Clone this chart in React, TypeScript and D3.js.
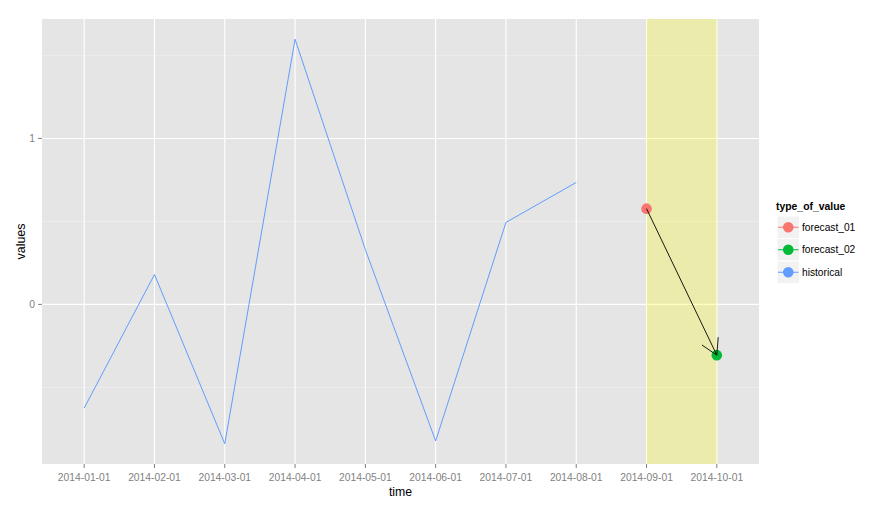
import React from "react";
import * as d3 from "d3";

const categories = [
  "2014-01-01", "2014-02-01", "2014-03-01", "2014-04-01", "2014-05-01",
  "2014-06-01", "2014-07-01", "2014-08-01", "2014-09-01", "2014-10-01",
];
const historicalDates = [
  "2014-01-01", "2014-02-01", "2014-03-01", "2014-04-01",
  "2014-05-01", "2014-06-01", "2014-07-01", "2014-08-01",
];
const historicalValues = [-0.625, 0.18, -0.84, 1.598, 0.33, -0.823, 0.494, 0.735];
const forecast01 = { date: "2014-09-01", value: 0.577 };
const forecast02 = { date: "2014-10-01", value: -0.306 };
const highlightRange = ["2014-09-01", "2014-10-01"];
const yMajorTicks = [0, 1];
const yMinorTicks = [-0.5, 0.5, 1.5];
const legendItems = [
  { label: "forecast_01", color: "#F8766D" },
  { label: "forecast_02", color: "#00BA38" },
  { label: "historical", color: "#619CFF" },
];

const W = 892, H = 510;
const panel = { left: 42, right: 759, top: 19, bottom: 464 };
const FONT = "Liberation Sans, Arial, sans-serif";
const GREY_TEXT = "#7F7F7F";

export default function App() {
  const x = d3.scalePoint<string>().domain(categories).range([panel.left, panel.right]).padding(0.6);
  const allVals = [...historicalValues, forecast01.value, forecast02.value];
  const [mn, mx] = d3.extent(allVals) as [number, number];
  const pad = (mx - mn) * 0.05;
  const y = d3.scaleLinear().domain([mn - pad, mx + pad]).range([panel.bottom, panel.top]);

  const line = d3.line<number>()
    .x((_, i) => x(historicalDates[i]) as number)
    .y((d) => y(d));

  const ax = x(forecast01.date) as number, ay = y(forecast01.value);
  const bx = x(forecast02.date) as number, by = y(forecast02.value);
  const ang = Math.atan2(ay - by, ax - bx);
  const headLen = 18, headAng = Math.PI / 6;
  const h1 = [bx + headLen * Math.cos(ang + headAng), by + headLen * Math.sin(ang + headAng)];
  const h2 = [bx + headLen * Math.cos(ang - headAng), by + headLen * Math.sin(ang - headAng)];

  const rx0 = x(highlightRange[0]) as number, rx1 = x(highlightRange[1]) as number;

  const legX = 777, legY = 216, keySize = 22.5;

  return (
    <svg width={W} height={H} style={{ position: "absolute", left: 0, top: 0, background: "#fff" }}>
      <rect x={panel.left} y={panel.top} width={panel.right - panel.left} height={panel.bottom - panel.top} fill="#E5E5E5" />
      {yMinorTicks.map((t) => (
        <line key={"mn" + t} x1={panel.left} x2={panel.right} y1={y(t)} y2={y(t)} stroke="#F2F2F2" strokeWidth={0.6} />
      ))}
      {yMajorTicks.map((t) => (
        <line key={"mj" + t} x1={panel.left} x2={panel.right} y1={y(t)} y2={y(t)} stroke="#FFFFFF" strokeWidth={1.1} />
      ))}
      {categories.map((c) => (
        <line key={"vx" + c} x1={x(c)} x2={x(c)} y1={panel.top} y2={panel.bottom} stroke="#FFFFFF" strokeWidth={1.1} />
      ))}
      <rect x={rx0} y={panel.top} width={rx1 - rx0} height={panel.bottom - panel.top} fill="#FFFF00" fillOpacity={0.25} />
      <path d={line(historicalValues) || ""} fill="none" stroke="#619CFF" strokeWidth={1} />
      <circle cx={ax} cy={ay} r={5.3} fill="#F8766D" />
      <circle cx={bx} cy={by} r={5.3} fill="#00BA38" />
      <g stroke="#000" strokeWidth={0.9} fill="none">
        <line x1={ax} y1={ay} x2={bx} y2={by} />
        <line x1={bx} y1={by} x2={h1[0]} y2={h1[1]} />
        <line x1={bx} y1={by} x2={h2[0]} y2={h2[1]} />
      </g>

      {/* x axis */}
      {categories.map((c) => (
        <g key={"xt" + c}>
          <line x1={x(c)} x2={x(c)} y1={panel.bottom} y2={panel.bottom + 4} stroke={GREY_TEXT} strokeWidth={1} />
          <text x={x(c)} y={481} textAnchor="middle" fontFamily={FONT} fontSize={10.3} fill={GREY_TEXT}>{c}</text>
        </g>
      ))}
      <text x={(panel.left + panel.right) / 2} y={496} textAnchor="middle" fontFamily={FONT} fontSize={12.3} fill="#000">time</text>

      {/* y axis */}
      {yMajorTicks.map((t) => (
        <g key={"yt" + t}>
          <line x1={panel.left - 4} x2={panel.left} y1={y(t)} y2={y(t)} stroke={GREY_TEXT} strokeWidth={1} />
          <text x={35} y={y(t) + 3.7} textAnchor="end" fontFamily={FONT} fontSize={10.3} fill={GREY_TEXT}>{t}</text>
        </g>
      ))}
      <text transform={`translate(25,${(panel.top + panel.bottom) / 2}) rotate(-90)`} textAnchor="middle" fontFamily={FONT} fontSize={12.5} fill="#000">values</text>

      {/* legend */}
      <text x={776} y={209.5} fontFamily={FONT} fontSize={10.4} fontWeight="bold" fill="#000">type_of_value</text>
      {legendItems.map((it, i) => {
        const ky = legY + i * keySize;
        const cy = ky + keySize / 2;
        return (
          <g key={it.label}>
            <rect x={legX} y={ky} width={keySize} height={keySize} fill="#F2F2F2" stroke="#FFFFFF" strokeWidth={1} />
            <line x1={legX + 1} x2={legX + keySize - 1} y1={cy} y2={cy} stroke={it.color} strokeWidth={1} />
            <circle cx={legX + keySize / 2} cy={cy} r={5.3} fill={it.color} />
            <text x={802} y={cy + 3.7} fontFamily={FONT} fontSize={10.2} fill="#000">{it.label}</text>
          </g>
        );
      })}
    </svg>
  );
}
